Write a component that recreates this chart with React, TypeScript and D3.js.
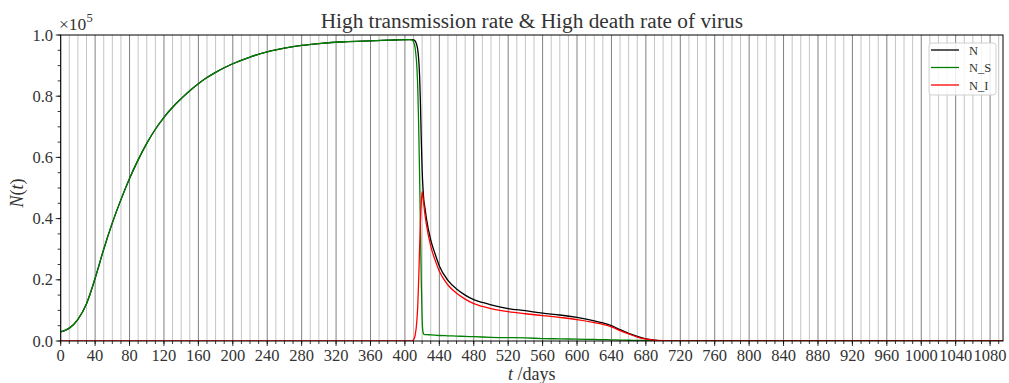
import React from "react";
import * as d3 from "d3";

// Simulation output sampled by day (population counts)
const days = [0, 10, 20, 30, 40, 50, 60, 70, 80, 90, 100, 110, 120, 130, 140, 150, 160, 170, 180, 190, 200, 220, 240, 260, 280, 300, 330, 360, 380, 405, 408, 410, 412, 414, 415, 416, 417, 418, 419, 420, 421, 422, 423, 425, 430, 435, 440, 450, 460, 470, 480, 490, 500, 520, 540, 560, 580, 600, 620, 630, 640, 650, 660, 670, 680, 690, 700, 720, 760, 1095];

const totalN = [3000, 4200, 7100, 12200, 20500, 30000, 38600, 46200, 53100, 59200, 64600, 69200, 73100, 76400, 79200, 81800, 84100, 86100, 87800, 89300, 90600, 92800, 94500, 95700, 96600, 97200, 97800, 98100, 98300, 98500, 98500, 98400, 98000, 96500, 95000, 92000, 87000, 78000, 66000, 56000, 50000, 46000, 44000, 40000, 33000, 28500, 24500, 19800, 17000, 15000, 13500, 12600, 11800, 10600, 9900, 9100, 8500, 7700, 6600, 5900, 5000, 3700, 2500, 1500, 700, 300, 100, 0, 0, 0];

const susceptibleN = [3000, 4200, 7100, 12200, 20500, 30000, 38600, 46200, 53100, 59200, 64600, 69200, 73100, 76400, 79200, 81800, 84100, 86100, 87800, 89300, 90600, 92800, 94500, 95700, 96600, 97200, 97800, 98100, 98300, 98500, 98400, 97800, 95500, 89000, 82000, 70000, 55000, 38000, 20000, 7000, 3000, 2200, 2100, 2100, 2000, 1900, 1800, 1700, 1600, 1500, 1400, 1300, 1200, 1100, 1000, 800, 700, 600, 500, 450, 400, 300, 250, 200, 150, 100, 70, 30, 0, 0];

const infectedN = [0, 0, 0, 0, 0, 0, 0, 0, 0, 0, 0, 0, 0, 0, 0, 0, 0, 0, 0, 0, 0, 0, 0, 0, 0, 0, 0, 0, 0, 0, 0, 400, 2000, 7000, 12000, 20000, 30000, 39000, 45000, 48800, 47000, 44500, 42000, 38000, 31000, 26500, 22800, 18300, 15600, 13700, 12200, 11300, 10600, 9600, 8900, 8300, 7700, 7000, 6000, 5400, 4600, 3400, 2300, 1300, 600, 250, 100, 0, 0, 0];

const xTicks = d3.range(0, 1081, 40);
const xMinor = d3.range(0, 1095, 10);
const yTicks = [0, 0.2, 0.4, 0.6, 0.8, 1.0];
const yMinor = d3.range(0, 1.0001, 0.05);

const seriesNames = ["N", "N_S", "N_I"];
const seriesColors = ["#000000", "#008000", "#ff0000"];

const W = 1009;
const H = 383;
const left = 60.7;
const right = 1003;
const top = 35;
const bottom = 341;
const font = "'Liberation Serif', 'Times New Roman', serif";

export default function App() {
  const x = d3.scaleLinear().domain([0, 1095]).range([left, right]);
  const y = d3.scaleLinear().domain([0, 100000]).range([bottom, top]);

  const line = d3
    .line<[number, number]>()
    .x((d) => x(d[0]))
    .y((d) => y(d[1]))
    .curve(d3.curveMonotoneX);

  const series = [totalN, susceptibleN, infectedN].map((vals) =>
    line(days.map((t, i) => [t, vals[i]] as [number, number]))
  );

  return (
    <svg
      width={W}
      height={H}
      style={{ position: "absolute", left: 0, top: 0, background: "#fff" }}
      fontFamily={font}
    >
      <defs>
        <clipPath id="plot">
          <rect x={left} y={top} width={right - left} height={bottom - top} />
        </clipPath>
      </defs>

      {/* vertical grid: minor every 10 days, major every 40 */}
      {xMinor
        .filter((t) => t % 40 !== 0)
        .map((t) => (
          <line key={"mg" + t} x1={x(t)} x2={x(t)} y1={top} y2={bottom} stroke="#c4c4c4" strokeWidth={1} />
        ))}
      {xTicks.map((t) => (
        <line key={"g" + t} x1={x(t)} x2={x(t)} y1={top} y2={bottom} stroke="#808080" strokeWidth={1} />
      ))}

      {/* series, drawn in legend order */}
      <g clipPath="url(#plot)">
        {[0, 1, 2].map((i) => (
          <path key={i} d={series[i] || ""} fill="none" stroke={seriesColors[i]} strokeWidth={1.3} />
        ))}
      </g>

      {/* frame */}
      <rect x={left} y={top} width={right - left} height={bottom - top} fill="none" stroke="#000" strokeWidth={1} />

      {/* x ticks */}
      {xMinor.map((t) => (
        <line key={"xm" + t} x1={x(t)} x2={x(t)} y1={bottom} y2={bottom + 3} stroke="#000" strokeWidth={0.8} />
      ))}
      {xTicks.map((t) => (
        <g key={"xt" + t}>
          <line x1={x(t)} x2={x(t)} y1={bottom} y2={bottom + 5} stroke="#000" strokeWidth={0.8} />
          <text x={x(t)} y={361} textAnchor="middle" fontSize={16.5} fill="#333">
            {t}
          </text>
        </g>
      ))}

      {/* y ticks */}
      {yMinor.map((v) => (
        <line key={"ym" + v} x1={left - 3} x2={left} y1={y(v * 1e5)} y2={y(v * 1e5)} stroke="#000" strokeWidth={0.8} />
      ))}
      {yTicks.map((v) => (
        <g key={"yt" + v}>
          <line x1={left - 5} x2={left} y1={y(v * 1e5)} y2={y(v * 1e5)} stroke="#000" strokeWidth={0.8} />
          <text x={53} y={y(v * 1e5) + 5.5} textAnchor="end" fontSize={16.5} fill="#333">
            {v.toFixed(1)}
          </text>
        </g>
      ))}

      {/* offset label */}
      <text x={59} y={30} fontSize={17.5} fill="#333">
        ×10<tspan dy={-8} fontSize={12.5}>5</tspan>
      </text>

      {/* title */}
      <text x={(left + right) / 2} y={28} textAnchor="middle" fontSize={21.3} fill="#333">
        High transmission rate &amp; High death rate of virus
      </text>

      {/* axis labels */}
      <text x={(left + right) / 2} y={380} textAnchor="middle" fontSize={18} fill="#333">
        <tspan fontStyle="italic">t</tspan> /days
      </text>
      <text transform={`translate(23, ${(top + bottom) / 2 + 5}) rotate(-90)`} textAnchor="middle" fontSize={18} fill="#333">
        <tspan fontStyle="italic">N</tspan>(<tspan fontStyle="italic">t</tspan>)
      </text>

      {/* legend */}
      <g>
        <rect x={929} y={43} width={67} height={52} rx={3} fill="#fff" fillOpacity={0.85} stroke="#d0d0d0" strokeWidth={1} />
        {seriesNames.map((name, i) => (
          <g key={name}>
            <line x1={931} x2={959} y1={50 + i * 17.5} y2={50 + i * 17.5} stroke={seriesColors[i]} strokeWidth={1.3} />
            <text x={969} y={54.5 + i * 17.5} fontSize={12.5} fill="#333">
              {name}
            </text>
          </g>
        ))}
      </g>
    </svg>
  );
}
